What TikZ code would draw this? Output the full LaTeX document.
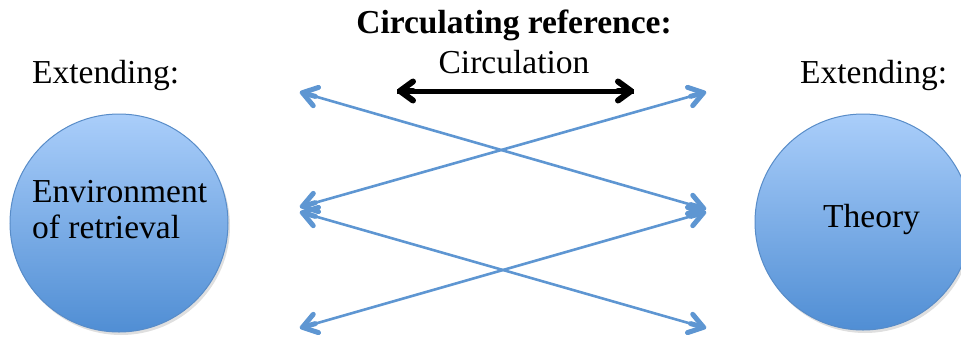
\documentclass[tikz,border=0pt]{standalone}
\usepackage{fontspec}
\setmainfont{Liberation Serif}
\usetikzlibrary{arrows.meta,shadows,calc}
\definecolor{arrowblue}{RGB}{94,150,210}
\definecolor{topblue}{RGB}{170,206,250}
\definecolor{botblue}{RGB}{80,142,212}
\definecolor{rimblue}{RGB}{88,140,200}
\tikzset{
  txt/.style={inner sep=0pt, font=\fontsize{33.5}{36}\selectfont},
  bubble/.style={circle, minimum size=#1, inner sep=0pt, draw=rimblue, line width=1pt,
     top color=topblue, bottom color=botblue,
     drop shadow={shadow xshift=2pt, shadow yshift=-3pt, opacity=0.25}},
  blueline/.style={draw=arrowblue, line width=2.6pt},
  bluehead/.style={draw=arrowblue, line width=5pt, line cap=round, -{Straight Barb[length=14pt, width=19pt, round]}},
  blackline/.style={draw=black, line width=5pt},
  blackhead/.style={draw=black, line width=6pt, line cap=round, -{Straight Barb[length=13pt, width=19pt, round]}}
}
\newcommand\twohead[3]{%
  \draw[#1line] (#2) -- (#3);
  \draw[#1head] ($(#2)!16pt!(#3)$) -- (#2);
  \draw[#1head] ($(#3)!16pt!(#2)$) -- (#3);
}
\begin{document}
\begin{tikzpicture}[x=1pt, y=-1pt]
\useasboundingbox (0,0) rectangle (961,338);
% circles
\node[bubble=218pt] (env) at (119,223) {};
\node[bubble=216pt] (theory) at (863,222) {};
\node[txt, anchor=base west, align=left] (envtext) at (32,238) {Environment\\of retrieval};
\node[txt, anchor=base west] (theorytext) at (823,227) {Theory};
% labels
\node[txt, anchor=base west] (extl) at (32,83) {Extending:};
\node[txt, anchor=base west] (extr) at (800,83) {Extending:};
\node[txt, anchor=base, font=\fontsize{33.5}{36}\selectfont\bfseries] (title) at (514,33) {Circulating reference:};
\node[txt, anchor=base] (circ) at (514,73) {Circulation};
% arrow end points
\coordinate (tl) at (300,92);
\coordinate (tr) at (706,92);
\coordinate (ml1) at (300,207);
\coordinate (ml2) at (300,212);
\coordinate (mr1) at (706,209);
\coordinate (mr2) at (706,212);
\coordinate (bl) at (300,328);
\coordinate (br) at (706,328);
\coordinate (cl) at (397,91);
\coordinate (cr) at (634,91);
% arrows
\twohead{blue}{tl}{mr1}
\twohead{blue}{ml1}{tr}
\twohead{blue}{ml2}{br}
\twohead{blue}{bl}{mr2}
\twohead{black}{cl}{cr}
\end{tikzpicture}
\end{document}
